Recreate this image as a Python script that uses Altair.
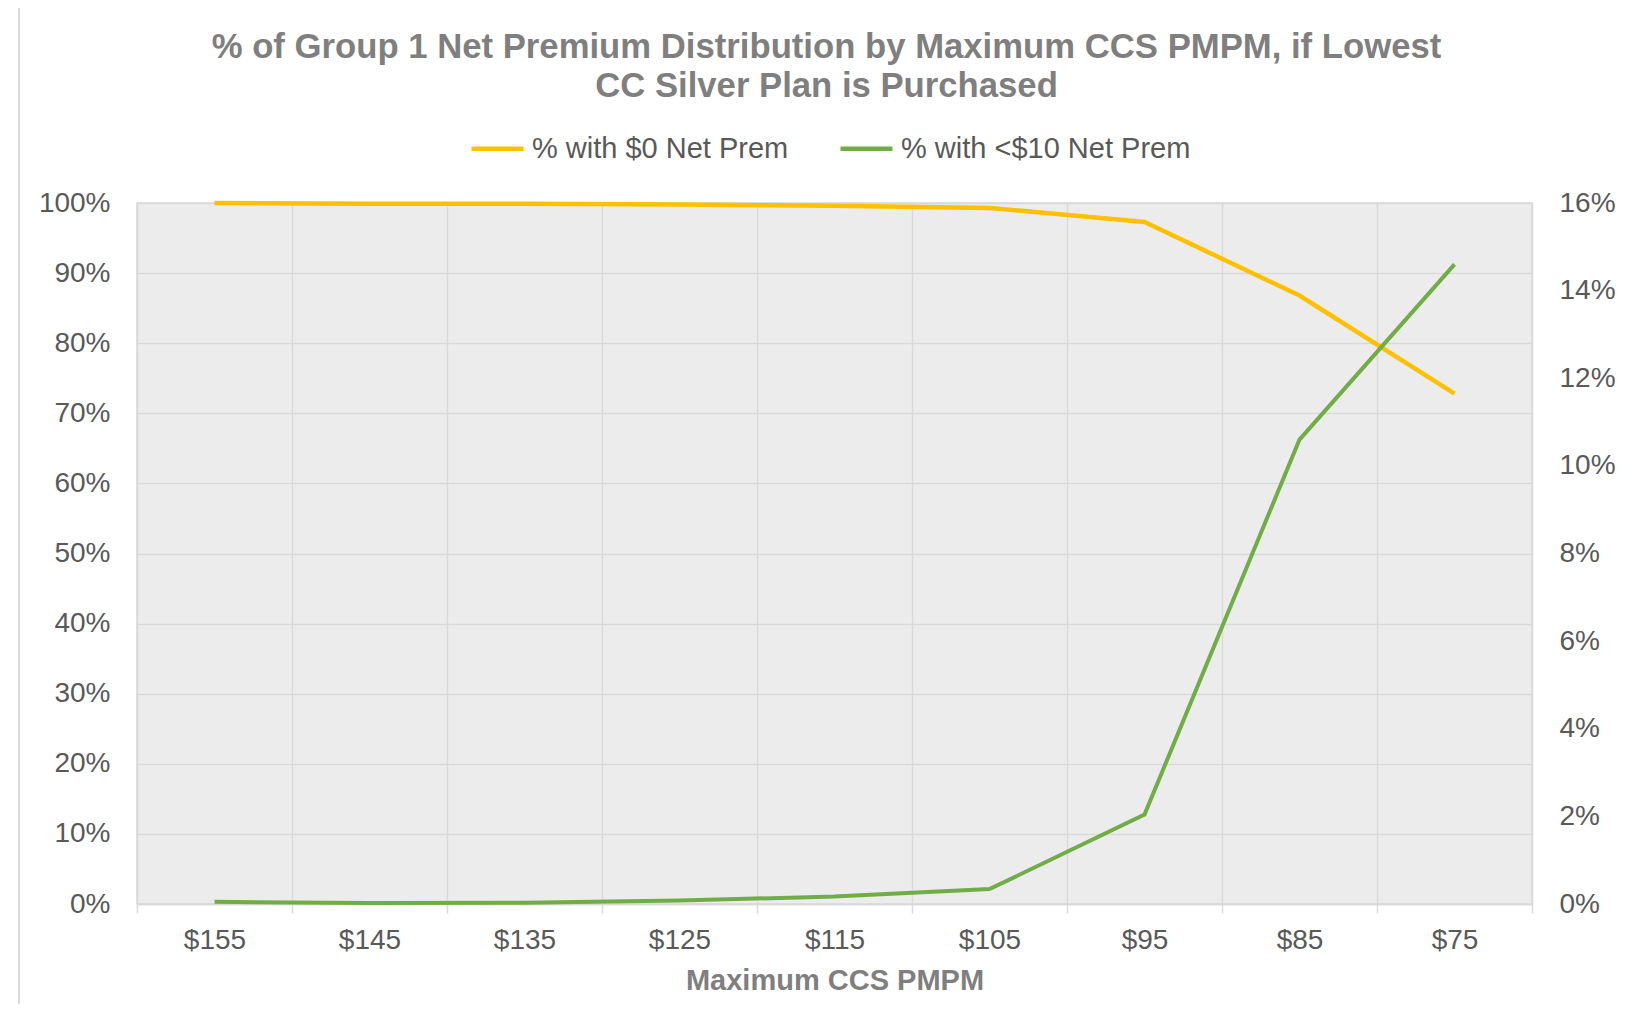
import altair as alt
import pandas as pd

categories = ["$155", "$145", "$135", "$125", "$115", "$105", "$95", "$85", "$75"]
zero_prem = [1.000, 0.999, 0.999, 0.998, 0.996, 0.993, 0.973, 0.868, 0.728]
lt10_prem = [0.0005, 0.0002, 0.0003, 0.0008, 0.0017, 0.0034, 0.0204, 0.106, 0.146]
series_names = ["% with $0 Net Prem", "% with <$10 Net Prem"]
series_colors = ["#FFC000", "#70AD47"]
left_ticks = [0, 0.1, 0.2, 0.3, 0.4, 0.5, 0.6, 0.7, 0.8, 0.9, 1.0]
right_ticks = [0, 0.02, 0.04, 0.06, 0.08, 0.10, 0.12, 0.14, 0.16]

FONT = "Liberation Sans"
GRID = "#d9d9d9"
LABEL = "#595959"
TITLE = "#7f7f7f"

df_zero = pd.DataFrame({"cat": categories, "val": zero_prem, "series": series_names[0]})
df_lt10 = pd.DataFrame({"cat": categories, "val": lt10_prem, "series": series_names[1]})

x_enc = alt.X(
    "cat:N",
    sort=categories,
    scale=alt.Scale(type="band", paddingInner=0, paddingOuter=0),
    axis=alt.Axis(
        tickBand="extent", grid=True, gridColor=GRID, gridWidth=1.5,
        ticks=True, tickColor=GRID, tickSize=9, tickWidth=1.5,
        domainColor=GRID, domainWidth=1.5, labelAngle=0,
        labelFont=FONT, labelFontSize=28, labelColor=LABEL, labelPadding=13,
        title="Maximum CCS PMPM", titleFont=FONT, titleFontSize=29,
        titleFontWeight="bold", titleColor=TITLE, titlePadding=12,
    ),
)

color_enc = alt.Color(
    "series:N",
    scale=alt.Scale(domain=series_names, range=series_colors),
    legend=alt.Legend(
        orient="none", legendX=332, legendY=-83, direction="horizontal",
        title=None, symbolType="stroke", symbolStrokeWidth=4.5, symbolSize=2704,
        labelFont=FONT, labelFontSize=29, labelColor=LABEL, labelOffset=6,
        labelLimit=0, columnPadding=42, padding=0,
    ),
)

line_zero = alt.Chart(df_zero).mark_line(strokeWidth=4.5).encode(
    x=x_enc,
    y=alt.Y(
        "val:Q",
        scale=alt.Scale(domain=[0, 1]),
        axis=alt.Axis(
            values=left_ticks, format=".0%", grid=True, gridColor=GRID, gridWidth=1.5,
            ticks=False, tickSize=0, domain=False, labelFont=FONT, labelFontSize=28,
            labelColor=LABEL, labelPadding=27, title=None,
        ),
    ),
    color=color_enc,
)

line_lt10 = alt.Chart(df_lt10).mark_line(strokeWidth=4).encode(
    x=x_enc,
    y=alt.Y(
        "val:Q",
        scale=alt.Scale(domain=[0, 0.16]),
        axis=alt.Axis(
            orient="right", values=right_ticks, format=".0%", grid=False,
            ticks=False, tickSize=0, domain=False, labelFont=FONT, labelFontSize=28,
            labelColor=LABEL, labelPadding=27, title=None,
        ),
    ),
    color=color_enc,
)

border_df = pd.DataFrame({"a": [0]})
border_left = alt.Chart(border_df).mark_rule(color=GRID, strokeWidth=2).encode(
    x=alt.value(-118), y=alt.value(-198), y2=alt.value(830)
)
border_top = alt.Chart(border_df).mark_rule(color=GRID, strokeWidth=2).encode(
    x=alt.value(-118), x2=alt.value(1500), y=alt.value(-198)
)

chart = (
    alt.layer(line_zero, line_lt10, border_left, border_top)
    .resolve_scale(y="independent")
    .properties(
        width=1395,
        height=701,
        autosize=alt.AutoSizeParams(type="none"),
        padding={"left": 129, "top": 195, "right": 85, "bottom": 100},
        title=alt.TitleParams(
            text=[
                "% of Group 1 Net Premium Distribution by Maximum CCS PMPM, if Lowest",
                "CC Silver Plan is Purchased",
            ],
            font=FONT, fontSize=34.7, fontWeight="bold", color=TITLE,
            anchor="middle", dx=-8, lineHeight=39.4, offset=-101,
        ),
    )
    .configure(
        background="white",
        view=alt.ViewConfig(fill="#ececec", stroke=GRID, strokeWidth=1.5),
    )
)

chart.save("out.html", embed_options={"renderer": "svg", "actions": False})
